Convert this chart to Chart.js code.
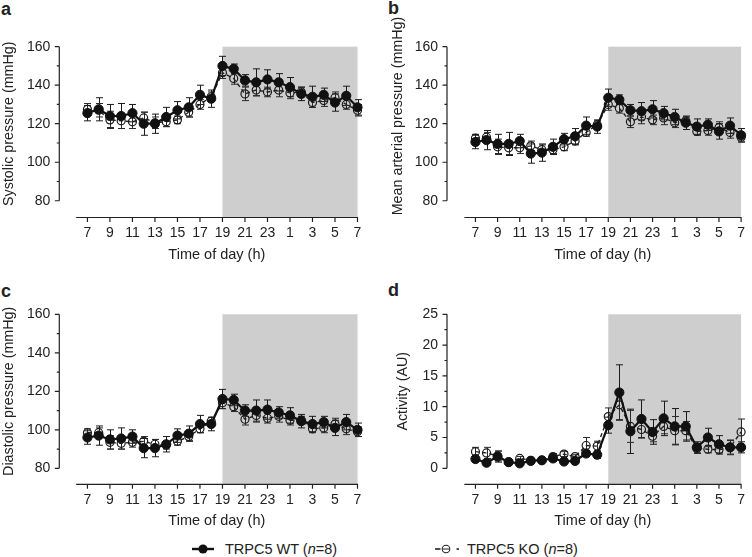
<!DOCTYPE html>
<html>
<head>
<meta charset="utf-8">
<script src="https://cdn.jsdelivr.net/npm/chart.js@4.4.1/dist/chart.umd.min.js"></script>
<style>
  body { margin: 0; background: #fff; font-family: 'Liberation Sans', Arial, sans-serif; color: #222; }
  canvas { position: absolute; }
  .letter { position: absolute; font-weight: bold; font-size: 18px; line-height: 18px; }
  .leg { position: absolute; font-size: 14.5px; line-height: 18px; top: 540px; }
  svg { position: absolute; }
</style>
</head>
<body>
<div class="letter" style="left:1px;top:0px">a</div>
<div class="letter" style="left:388px;top:-1px">b</div>
<div class="letter" style="left:1px;top:282px">c</div>
<div class="letter" style="left:388px;top:281px">d</div>

<canvas id="chartA" width="376" height="270" style="left:0;top:0"></canvas>
<canvas id="chartB" width="376" height="270" style="left:376px;top:0"></canvas>
<canvas id="chartC" width="376" height="255" style="left:0;top:280px"></canvas>
<canvas id="chartD" width="376" height="255" style="left:376px;top:280px"></canvas>

<svg width="30" height="20" style="left:190px;top:539px">
  <line x1="2" y1="10" x2="24" y2="10" stroke="#111" stroke-width="2.4"/>
  <circle cx="13" cy="10" r="4.6" fill="#111"/>
</svg>
<div class="leg" style="left:225px">TRPC5 WT (<i>n</i>=8)</div>
<svg width="30" height="20" style="left:432px;top:539px">
  <line x1="3" y1="10" x2="8.5" y2="10" stroke="#222" stroke-width="1.6"/>
  <circle cx="14" cy="10" r="3.8" fill="none" stroke="#222" stroke-width="1.1"/>
  <line x1="11" y1="10" x2="17" y2="10" stroke="#222" stroke-width="1"/>
  <line x1="24.5" y1="10" x2="27" y2="10" stroke="#222" stroke-width="1.6"/>
</svg>
<div class="leg" style="left:467px">TRPC5 KO (<i>n</i>=8)</div>

<script>
// time of day for each hourly sample, 7 am through 7 am next day
const hours = [7, 8, 9, 10, 11, 12, 13, 14, 15, 16, 17, 18, 19, 20, 21, 22, 23, 0, 1, 2, 3, 4, 5, 6, 7];
const tickPositions = [7, 9, 11, 13, 15, 17, 19, 21, 23, 25, 27, 29, 31];
const darkStart = 19;
const darkEnd = 31;
const pressureTicks = [80, 100, 120, 140, 160];
const activityTicks = [0, 5, 10, 15, 20, 25];

// a: systolic pressure
const systolicWT = [125.5, 127.5, 124, 124, 125.5, 120, 120, 123.5, 127, 128.5, 135, 133, 150, 148.5, 142.5, 141.5, 143, 141.5, 139, 135.5, 134, 135, 131, 134.5, 128.5];
const systolicWTErr = [4, 6, 6, 6.5, 4.5, 6, 5, 5, 4.5, 5, 5, 4.5, 5, 2.5, 3, 7, 5, 4.5, 5, 3.5, 5.5, 3.5, 4.5, 5, 4];
const systolicKO = [127.5, 127, 122, 121.5, 121, 123, 120.5, 121, 122, 126, 130, 134, 146.5, 143.5, 135.5, 137.5, 136.5, 137.5, 136, 136.5, 131, 132, 133.5, 130, 127];
const systolicKOErr = [3, 3.5, 4.5, 4, 3.5, 3, 3, 2.5, 2, 2.5, 2.5, 2.5, 3, 3, 3.5, 3, 2.5, 3.5, 3, 2.5, 2.5, 3, 3, 2.5, 3];

// b: mean arterial pressure
const meanWT = [110.5, 111.5, 109.5, 109.5, 111, 104.5, 105, 108, 112, 113.5, 119, 118.5, 133.5, 132.5, 127, 126.5, 127.5, 125.5, 123.5, 120.5, 118.5, 119.5, 116, 119, 114];
const meanWTErr = [3.5, 5, 5, 6, 3.5, 5, 4.5, 4, 3, 4, 4.5, 3.5, 4.5, 2.5, 3, 4.5, 4.5, 3.5, 4, 3.5, 4, 3, 4, 4, 3.5];
const meanKO = [112.5, 113, 108, 107.5, 107.5, 108.5, 106.5, 106.5, 108, 111, 115.5, 119.5, 130, 128, 121, 123.5, 122, 123, 120.5, 121.5, 116, 116.5, 118, 115.5, 113];
const meanKOErr = [2, 2.5, 4, 3.5, 3, 2.5, 2.5, 2, 2, 2, 2, 2, 3, 2.5, 3, 3.5, 2.5, 3.5, 2.5, 2, 2, 2.5, 3, 3, 2.5];

// c: diastolic pressure
const diastolicWT = [96, 97, 95, 95.5, 96.5, 90.5, 90.5, 92.5, 97, 98, 103, 103, 116, 115.5, 110, 110, 110.5, 109, 107.5, 104.5, 103, 104, 101, 104, 100];
const diastolicWTErr = [3.5, 5, 5, 5.5, 3.5, 5, 4.5, 4, 3.5, 4, 4.5, 3.5, 5, 3, 3, 5.5, 5, 3, 4, 3.5, 4, 3, 4, 4, 3.5];
const diastolicKO = [98.5, 98.5, 93.5, 93, 93.5, 94, 92.5, 92, 94, 96.5, 100.5, 104.5, 114, 112, 105.5, 107.5, 106, 107, 105, 105, 100.5, 101, 103, 100.5, 99];
const diastolicKOErr = [2, 2.5, 3.5, 3, 2.5, 2.5, 2.5, 2, 2, 2, 2, 2, 3, 2.5, 3, 3.5, 2.5, 3, 2.5, 2, 2, 2.5, 3, 3, 2.5];

// d: activity
const activityWT = [1.5, 0.9, 1.9, 1.0, 0.8, 1.2, 1.3, 1.6, 1.1, 1.2, 2.4, 2.2, 7.0, 12.3, 6.0, 8.0, 5.9, 8.1, 6.8, 6.8, 3.4, 5.0, 3.9, 3.4, 3.4];
const activityWTErr = [0.5, 0.3, 0.9, 0.2, 0.3, 0.3, 0.2, 0.5, 0.3, 0.3, 0.5, 0.6, 1.3, 4.5, 3.6, 3.1, 2.0, 2.8, 2.9, 2.4, 0.9, 1.5, 1.4, 1.1, 0.9];
const activityKO = [2.7, 2.5, 2.0, 1.0, 1.6, 1.3, 1.3, 1.9, 2.3, 1.9, 3.7, 3.6, 8.4, 10.3, 6.8, 6.3, 5.2, 6.8, 6.1, 6.1, 3.2, 3.1, 3.0, 3.4, 5.9];
const activityKOErr = [0.7, 0.9, 0.8, 0.2, 0.3, 0.2, 0.2, 0.5, 0.4, 0.3, 1.3, 0.8, 1.4, 2.4, 2.6, 1.3, 0.9, 1.2, 2.3, 1.5, 0.8, 0.6, 0.7, 1.2, 2.1];

const FONT = "'Liberation Sans', Arial, sans-serif";
const INK = '#222';

function toPoints(values) {
  return values.map((v, i) => ({ x: 7 + i, y: v }));
}

// shading, error bars, broken-style axes and rotated y title
const decor = {
  id: 'decor',
  beforeDatasetsDraw(chart, args, o) {
    const { ctx, chartArea: area, scales: { x, y } } = chart;
    ctx.save();
    const top = y.getPixelForValue(o.ticks[o.ticks.length - 1]);
    const x0 = x.getPixelForValue(darkStart), x1 = x.getPixelForValue(darkEnd);
    ctx.fillStyle = '#cecece';
    ctx.fillRect(x0, top, x1 - x0, area.bottom - top);

    chart.data.datasets.forEach(ds => {
      ctx.strokeStyle = ds.errColor;
      ctx.lineWidth = 1;
      ds.data.forEach((p, i) => {
        const px = Math.round(x.getPixelForValue(p.x)) + 0.5;
        const hi = y.getPixelForValue(p.y + ds.errors[i]);
        const lo = y.getPixelForValue(p.y - ds.errors[i]);
        ctx.beginPath();
        ctx.moveTo(px, hi); ctx.lineTo(px, lo);
        ctx.moveTo(px - 3.5, hi); ctx.lineTo(px + 3.5, hi);
        ctx.moveTo(px - 3.5, lo); ctx.lineTo(px + 3.5, lo);
        ctx.stroke();
      });
    });
    ctx.restore();
  },
  afterDraw(chart, args, o) {
    const { ctx, chartArea: area, scales: { x, y } } = chart;
    ctx.save();
    ctx.strokeStyle = INK;
    ctx.lineWidth = 1.2;

    // y axis only spans the labelled range
    const ax = area.left;
    const yLo = y.getPixelForValue(o.ticks[0]);
    const yHi = y.getPixelForValue(o.ticks[o.ticks.length - 1]);
    ctx.beginPath();
    ctx.moveTo(ax, yLo); ctx.lineTo(ax, yHi);
    o.ticks.forEach(t => {
      const py = y.getPixelForValue(t);
      ctx.moveTo(ax, py); ctx.lineTo(ax - 4.5, py);
    });
    for (let i = 0; i < o.ticks.length - 1; i++) {
      const py = y.getPixelForValue((o.ticks[i] + o.ticks[i + 1]) / 2);
      ctx.moveTo(ax, py); ctx.lineTo(ax - 2.5, py);
    }
    ctx.stroke();

    // x axis sits below, detached from the y axis
    const by = area.bottom;
    const xs = x.getPixelForValue(6);
    const xe = x.getPixelForValue(31);
    ctx.beginPath();
    ctx.moveTo(xs, by); ctx.lineTo(xe + 0.6, by);
    tickPositions.forEach(t => {
      const px = x.getPixelForValue(t);
      ctx.moveTo(px, by); ctx.lineTo(px, by + 4.5);
    });
    ctx.stroke();

    ctx.fillStyle = INK;
    ctx.font = '14.5px ' + FONT;
    ctx.textAlign = 'center';
    ctx.textBaseline = 'middle';
    ctx.fillText('Time of day (h)', (xs + xe) / 2, by + 37);

    ctx.font = '14.3px ' + FONT;
    ctx.translate(o.titleX, o.titleY === undefined ? (yLo + yHi) / 2 : o.titleY);
    ctx.rotate(-Math.PI / 2);
    ctx.fillText(o.title, 0, 0);
    ctx.restore();
  }
};

function makePanel(id, cfg) {
  new Chart(document.getElementById(id), {
    type: 'line',
    data: {
      datasets: [{
        label: 'TRPC5 WT (n=8)',
        data: toPoints(cfg.wt),
        errors: cfg.wtErr,
        errColor: '#1a1a1a',
        borderColor: '#111',
        borderWidth: 2.2,
        pointRadius: 4.6,
        pointBackgroundColor: '#111',
        pointBorderColor: '#111',
        pointBorderWidth: 1,
        tension: 0,
        clip: false
      }, {
        label: 'TRPC5 KO (n=8)',
        data: toPoints(cfg.ko),
        errors: cfg.koErr,
        errColor: '#2a2a2a',
        borderColor: '#222',
        borderWidth: 1.4,
        borderDash: [4, 3],
        pointRadius: 4,
        pointBackgroundColor: 'rgba(0,0,0,0)',
        pointBorderColor: '#1a1a1a',
        pointBorderWidth: 1.2,
        tension: 0,
        clip: false
      }]
    },
    options: {
      responsive: false,
      animation: false,
      events: [],
      layout: { padding: { top: cfg.padTop, right: cfg.padRight, left: 0, bottom: 0 } },
      scales: {
        x: {
          type: 'linear',
          min: cfg.xMin,
          max: 31,
          grid: { display: false, drawTicks: false },
          border: { display: false },
          afterBuildTicks: s => { s.ticks = tickPositions.map(v => ({ value: v })); },
          afterFit: s => { s.height = cfg.xHeight; },
          ticks: {
            autoSkip: false,
            maxRotation: 0,
            padding: 7,
            color: INK,
            font: { family: FONT, size: 14 },
            callback: v => hours[v - 7]
          }
        },
        y: {
          min: cfg.yMin,
          max: cfg.ticks[cfg.ticks.length - 1],
          grid: { display: false, drawTicks: false },
          border: { display: false },
          afterBuildTicks: s => { s.ticks = cfg.ticks.map(v => ({ value: v })); },
          afterFit: s => { s.width = cfg.yWidth; },
          ticks: {
            padding: 9,
            color: INK,
            font: { family: FONT, size: 14 }
          }
        }
      },
      plugins: {
        legend: { display: false },
        tooltip: { enabled: false },
        decor: { ticks: cfg.ticks, title: cfg.title, titleX: cfg.titleX, titleY: cfg.titleY }
      }
    },
    plugins: [decor]
  });
}

makePanel('chartA', {
  wt: systolicWT, wtErr: systolicWTErr, ko: systolicKO, koErr: systolicKOErr,
  ticks: pressureTicks, yMin: 71.3, xMin: 4.5,
  padTop: 46.7, padRight: 18.5, yWidth: 59.3, xHeight: 52.5,
  title: 'Systolic pressure (mmHg)', titleX: 9
});
makePanel('chartB', {
  wt: meanWT, wtErr: meanWTErr, ko: meanKO, koErr: meanKOErr,
  ticks: pressureTicks, yMin: 71.3, xMin: 4.43,
  padTop: 46.7, padRight: 5, yWidth: 71, xHeight: 52.5,
  title: 'Mean arterial pressure (mmHg)', titleX: 22, titleY: 116
});
makePanel('chartC', {
  wt: diastolicWT, wtErr: diastolicWTErr, ko: diastolicKO, koErr: diastolicKOErr,
  ticks: pressureTicks, yMin: 71.7, xMin: 4.5,
  padTop: 34.3, padRight: 18.5, yWidth: 59.3, xHeight: 50.7,
  title: 'Diastolic pressure (mmHg)', titleX: 9
});
makePanel('chartD', {
  wt: activityWT, wtErr: activityWTErr, ko: activityKO, koErr: activityKOErr,
  ticks: activityTicks, yMin: -2.6, xMin: 4.43,
  padTop: 34.3, padRight: 5, yWidth: 71, xHeight: 50.7,
  title: 'Activity (AU)', titleX: 27
});
</script>
</body>
</html>
